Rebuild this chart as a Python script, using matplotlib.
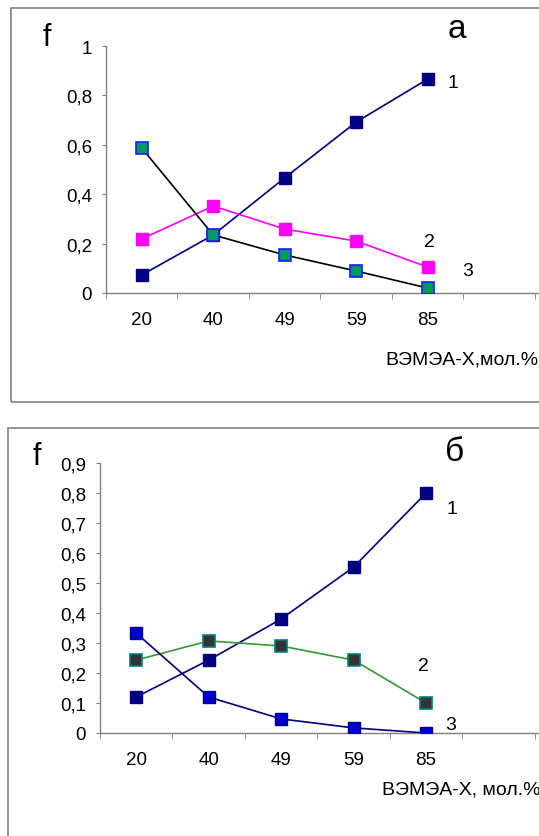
import numpy as np
import matplotlib
matplotlib.use('Agg')
import matplotlib.pyplot as plt
from matplotlib.patches import Rectangle

plt.rcParams['font.family'] = ['Liberation Sans', 'DejaVu Sans']

# Data
categories = ['20', '40', '49', '59', '85']

# panel a
a_s1 = [0.073, 0.235, 0.466, 0.692, 0.866]
a_s2 = [0.219, 0.352, 0.259, 0.210, 0.105]
a_s3 = [0.587, 0.235, 0.154, 0.089, 0.020]

# panel б
b_s1 = [0.120, 0.243, 0.380, 0.553, 0.800]
b_s2 = [0.243, 0.307, 0.290, 0.243, 0.100]
b_s3 = [0.333, 0.120, 0.047, 0.017, 0.000]

W, H = 539, 837
fig = plt.figure(figsize=(W / 100, H / 100), dpi=100)


def px_axes(left, top, right, bottom):
    return fig.add_axes([left / W, 1 - bottom / H, (right - left) / W, (bottom - top) / H])


def style_axes(ax, ymax, ystep, ylabels):
    x = np.arange(len(categories))
    ax.set_xlim(-0.5, 5.6)
    ax.set_ylim(0, ymax)
    for s in ['top', 'right']:
        ax.spines[s].set_visible(False)
    for s in ['left', 'bottom']:
        ax.spines[s].set_color('#808080')
        ax.spines[s].set_linewidth(1.0)
    ax.set_xticks(x)
    ax.set_xticklabels(categories)
    ax.set_xticks(np.arange(-0.5, 6, 1.0), minor=True)
    ax.tick_params(axis='x', which='major', length=0, pad=13, labelsize=13.5)
    ax.tick_params(axis='x', which='minor', length=4, color='#808080', direction='out')
    yt = np.arange(0, ymax + 1e-9, ystep)
    ax.set_yticks(yt)
    ax.set_yticklabels(ylabels)
    ax.tick_params(axis='y', length=3, color='#808080', pad=7, labelsize=13.5)
    ax.patch.set_alpha(0)


ms = 8
lw = 1.2

# ---- panel a ----
ax1 = px_axes(106, 47, 542, 294)
x = np.arange(len(categories))
ax1.plot(x, a_s1, color='#000080', lw=lw, marker='s', ms=ms, mfc='#000080', mec='#000080', zorder=3)
ax1.plot(x, a_s2, color='#ff00ff', lw=lw, marker='s', ms=ms, mfc='#ff00ff', mec='#ff00ff', zorder=3)
ax1.plot(x, a_s3, color='#000000', lw=lw, marker='s', ms=ms, mfc='#009966', mec='#1a1aff', mew=1.2, zorder=4)
style_axes(ax1, 1.0, 0.2, ['0', '0,2', '0,4', '0,6', '0,8', '1'])

fig.text(47 / W, 1 - 38 / H, 'f', fontsize=22, ha='center', va='center')
fig.text(457 / W, 1 - 29 / H, 'а', fontsize=24, ha='center', va='center')
fig.text(453 / W, 1 - 84 / H, '1', fontsize=14, ha='center', va='center')
fig.text(429 / W, 1 - 243 / H, '2', fontsize=14, ha='center', va='center')
fig.text(468 / W, 1 - 272 / H, '3', fontsize=14, ha='center', va='center')
fig.text(385 / W, 1 - 360 / H, 'ВЭМЭА-Х,мол.%', fontsize=14, ha='left', va='center')

# ---- panel б ----
ax2 = px_axes(100, 464, 542, 734)
ax2.plot(x, b_s1, color='#000080', lw=lw, marker='s', ms=ms, mfc='#000080', mec='#000080', zorder=3)
ax2.plot(x, b_s2, color='#339933', lw=lw, marker='s', ms=ms, mfc='#333333', mec='#008080', mew=1.2, zorder=3)
ax2.plot(x, b_s3, color='#000080', lw=lw, marker='s', ms=ms, mfc='#0000cc', mec='#000099', zorder=4)
style_axes(ax2, 0.9, 0.1, ['0', '0,1', '0,2', '0,3', '0,4', '0,5', '0,6', '0,7', '0,8', '0,9'])

fig.text(37 / W, 1 - 457 / H, 'f', fontsize=22, ha='center', va='center')
fig.text(455 / W, 1 - 453 / H, 'б', fontsize=24, ha='center', va='center')
fig.text(452 / W, 1 - 509 / H, '1', fontsize=14, ha='center', va='center')
fig.text(423 / W, 1 - 667 / H, '2', fontsize=14, ha='center', va='center')
fig.text(451 / W, 1 - 726 / H, '3', fontsize=14, ha='center', va='center')
fig.text(382 / W, 1 - 790 / H, 'ВЭМЭА-Х, мол.%', fontsize=14, ha='left', va='center')

# frames around the panels (cut at the right/bottom edge)
fig.patches.append(Rectangle((11 / W, 1 - 403 / H), 600 / W, 394 / H, transform=fig.transFigure,
                             fill=False, edgecolor='#808080', lw=1.2))
fig.patches.append(Rectangle((8 / W, 1 - 900 / H), 600 / W, 471 / H, transform=fig.transFigure,
                             fill=False, edgecolor='#808080', lw=1.2))

fig.savefig('out.png', dpi=100, facecolor='white')
